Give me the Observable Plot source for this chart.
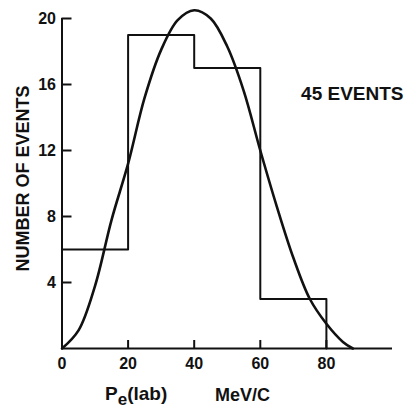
<!DOCTYPE html>
<html>
<head>
<meta charset="utf-8">
<script src="https://cdn.jsdelivr.net/npm/d3@7"></script>
<script src="https://cdn.jsdelivr.net/npm/@observablehq/plot@0.6"></script>
<style>
  html, body { margin: 0; padding: 0; background: #fff; }
  #chart { width: 407px; }
  #xlabel { position: relative; width: 407px; height: 33px; font-family: "Liberation Sans", Arial, sans-serif; font-weight: bold; color: #111; }
  #xlabel span { position: absolute; line-height: 18px; white-space: nowrap; }
  #xlabel sub { font-size: 17px; vertical-align: -5px; line-height: 0; }
</style>
</head>
<body>
<div id="chart"></div>
<div id="xlabel"><span style="left:105px; top:9px; font-size:19px;">P<sub>e</sub>(lab)</span><span style="left:215px; top:10px; font-size:18px;">MeV/C</span></div>
<script>
// Histogram: bin edges (MeV/c) and event counts
const binEdges = [0, 20, 40, 60, 80];
const counts = [6, 19, 17, 3];

// Smooth theoretical curve
const curveX = [0, 5, 10, 15, 20, 25, 30, 35, 40, 45, 50, 55, 60, 65, 70, 75, 80, 85, 88];
const curveY = [0, 1.1, 3.8, 7.8, 11.2, 15.2, 18.1, 19.9, 20.5, 20.0, 18.3, 15.6, 12.0, 8.6, 5.5, 3.0, 1.5, 0.4, 0];

// Axes
const xDomain = [0, 100];
const yDomain = [0, 20];
const xTicks = [0, 20, 40, 60, 80];
const yTicks = [4, 8, 12, 16, 20];
const yTitle = "NUMBER OF EVENTS";
const annotation = "45 EVENTS";

// step outline: each bin starts at its left edge; the last edge drops to zero
const hist = binEdges.map((e, i) => ({x: e, y: i < counts.length ? counts[i] : 0}));
const curve = curveX.map((x, i) => ({x, y: curveY[i]}));

const font = "Liberation Sans, Arial, sans-serif";

const chart = Plot.plot({
  width: 407,
  height: 376,
  marginLeft: 61.5,
  marginRight: 15,
  marginTop: 18,
  marginBottom: 28,
  style: {fontFamily: font, fontWeight: "bold", color: "#111", background: "#fff", overflow: "visible"},
  x: {domain: xDomain},
  y: {domain: yDomain},
  marks: [
    Plot.ruleX([0], {stroke: "#111", strokeWidth: 2}),
    Plot.ruleY([0], {stroke: "#111", strokeWidth: 2}),
    Plot.axisX({ticks: xTicks, tickSize: -8, text: null, label: null, strokeWidth: 2, stroke: "#111"}),
    Plot.axisX({ticks: xTicks, tickSize: 0, tickPadding: 9, label: null, fontSize: 16, fill: "#111", tickFormat: d => String(d)}),
    Plot.axisY({ticks: yTicks, tickSize: -10, text: null, label: null, strokeWidth: 2, stroke: "#111"}),
    Plot.axisY({ticks: yTicks, tickSize: 0, tickPadding: 6, label: null, fontSize: 16, fill: "#111", tickFormat: d => String(d)}),
    Plot.line(hist, {x: "x", y: "y", curve: "step-after", stroke: "#111", strokeWidth: 2}),
    Plot.line(curve, {x: "x", y: "y", curve: "catmull-rom", stroke: "#111", strokeWidth: 2.6}),
    Plot.text([yTitle], {frameAnchor: "left", textAnchor: "middle", lineAnchor: "middle", rotate: -90, dx: -39, dy: -5, fontSize: 18, fontWeight: "bold", fill: "#111", text: d => d}),
    Plot.text([annotation], {frameAnchor: "top-right", textAnchor: "end", lineAnchor: "middle", dx: 11, dy: 75, fontSize: 19, fontWeight: "bold", fill: "#111", text: d => d, letterSpacing: 1.2})
  ]
});
document.getElementById("chart").appendChild(chart);
</script>
</body>
</html>
